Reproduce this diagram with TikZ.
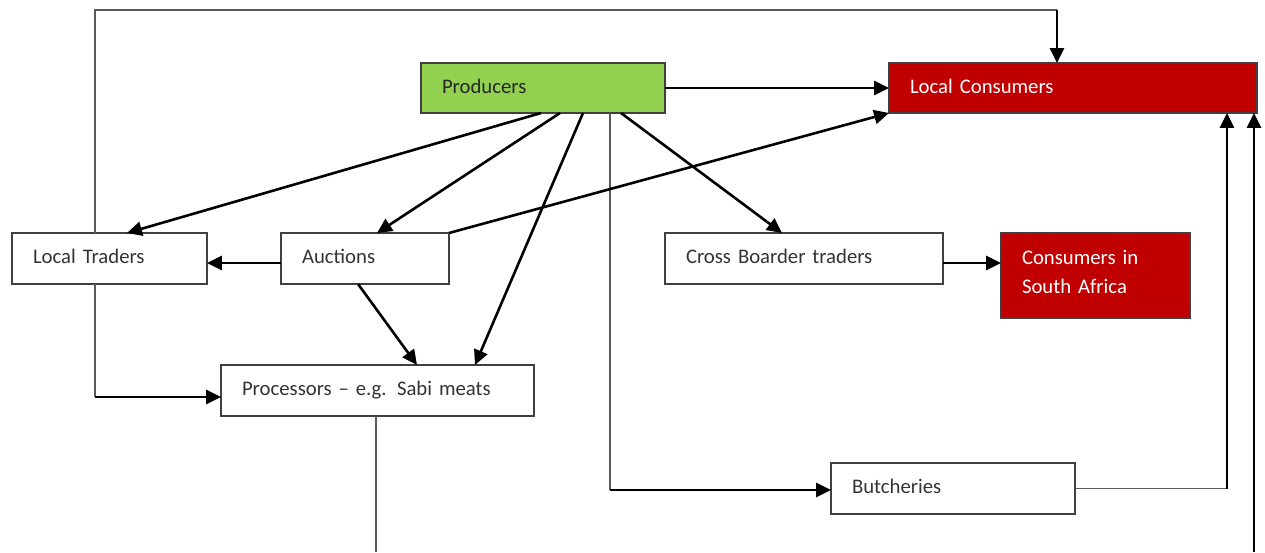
\documentclass[tikz,border=0pt]{standalone}
\usepackage{fontspec}
\setmainfont{Carlito}
\usetikzlibrary{arrows.meta,calc}
\newlength\pxu
\setlength\pxu{0.02cm}
\definecolor{prodgreen}{HTML}{92D050}
\definecolor{consred}{HTML}{C00000}
\definecolor{edgegray}{HTML}{404040}
\definecolor{wiregray}{HTML}{5A5A5A}
\begin{document}
\begin{tikzpicture}[x=0.02cm,y=-0.02cm,
  box/.style={draw=edgegray, line width=1.5\pxu, anchor=north west, align=left,
    inner xsep=21\pxu, inner ysep=0pt, outer sep=0pt, text depth=2pt,
    font=\fontsize{11.8}{16.4}\selectfont, text=black!80},
  redbox/.style={box, fill=consred, text=white},
  flow/.style={line width=2.6\pxu, -{Triangle[length=8.5pt,width=8pt]}},
  wire/.style={draw=wiregray, line width=1.5\pxu},
]
\useasboundingbox (0,0) rectangle (1265,552);

% boxes
\node[box, fill=prodgreen, text=black!85, text width=202\pxu, minimum height=50\pxu] (prod) at (421,63) {Producers};
\node[redbox, text width=326\pxu, minimum height=50\pxu] (lc) at (889,63) {Local Consumers};
\node[box, text width=153\pxu, minimum height=51\pxu] (lt) at (12,233) {Local Traders};
\node[box, text width=126\pxu, minimum height=51\pxu] (auc) at (281,233) {Auctions};
\node[box, text width=236\pxu, minimum height=51\pxu] (cross) at (665,233) {Cross Boarder traders};
\node[redbox, text width=147\pxu, minimum height=85\pxu, text depth=20.5pt] (csa) at (1001,233) {Consumers in\\South Africa};
\node[box, text width=271\pxu, minimum height=51\pxu] (proc) at (221,365) {Processors -- e.g. Sabi meats};
\node[box, text width=202\pxu, minimum height=51\pxu] (butch) at (831,463) {Butcheries};

% bend points and open ends
\coordinate (loopL) at (95,10);
\coordinate (loopR) at (1057,10);
\coordinate (ltdrop) at (95,397);
\coordinate (pbturn) at (610,490);
\coordinate (lcin) at ([xshift=338\pxu]lc.south west);
\coordinate (procout) at (376,552);
\coordinate (farin) at (1254,552);

% local traders -> local consumers (over the top)
\draw[wire] ([xshift=83\pxu]lt.north west) -- (loopL) -- (loopR);
\draw[flow] (loopR) -- ([xshift=168\pxu]lc.north west);

% local traders -> processors
\draw[wire] ([xshift=83\pxu]lt.south west) -- (ltdrop);
\draw[flow] (ltdrop) -- (ltdrop -| proc.west);

% producers
\draw[flow] (prod.east) -- (lc.west);
\draw[flow] ([xshift=120\pxu]prod.south west) -- ([xshift=115\pxu]lt.north west);
\draw[flow] ([xshift=139\pxu]prod.south west) -- ([xshift=96\pxu]auc.north west);
\draw[flow] ([xshift=162\pxu]prod.south west) -- ([xshift=254\pxu]proc.north west);
\draw[flow] ([xshift=200\pxu]prod.south west) -- ([xshift=117\pxu]cross.north west);
\draw[wire] ([xshift=189\pxu]prod.south west) -- (pbturn);
\draw[flow] (pbturn) -- (pbturn -| butch.west);

% auctions
\draw[flow] ([yshift=-30\pxu]auc.north west) -- ([yshift=-30\pxu]lt.north east);
\draw[flow] ([xshift=77\pxu]auc.south west) -- ([xshift=196\pxu]proc.north west);
\draw[flow] (auc.north east) -- (lc.south west);

% cross border
\draw[flow] ([yshift=-30\pxu]cross.north east) -- ([yshift=-30\pxu]csa.north west);

% butcheries -> local consumers
\draw[wire] (butch.east) -- (butch.east -| lcin);
\draw[flow] (butch.east -| lcin) -- (lcin);

% continuing below
\draw[wire] (proc.south -| procout) -- (procout);
\draw[flow] (farin) -- (farin |- lc.south);
\end{tikzpicture}
\end{document}
